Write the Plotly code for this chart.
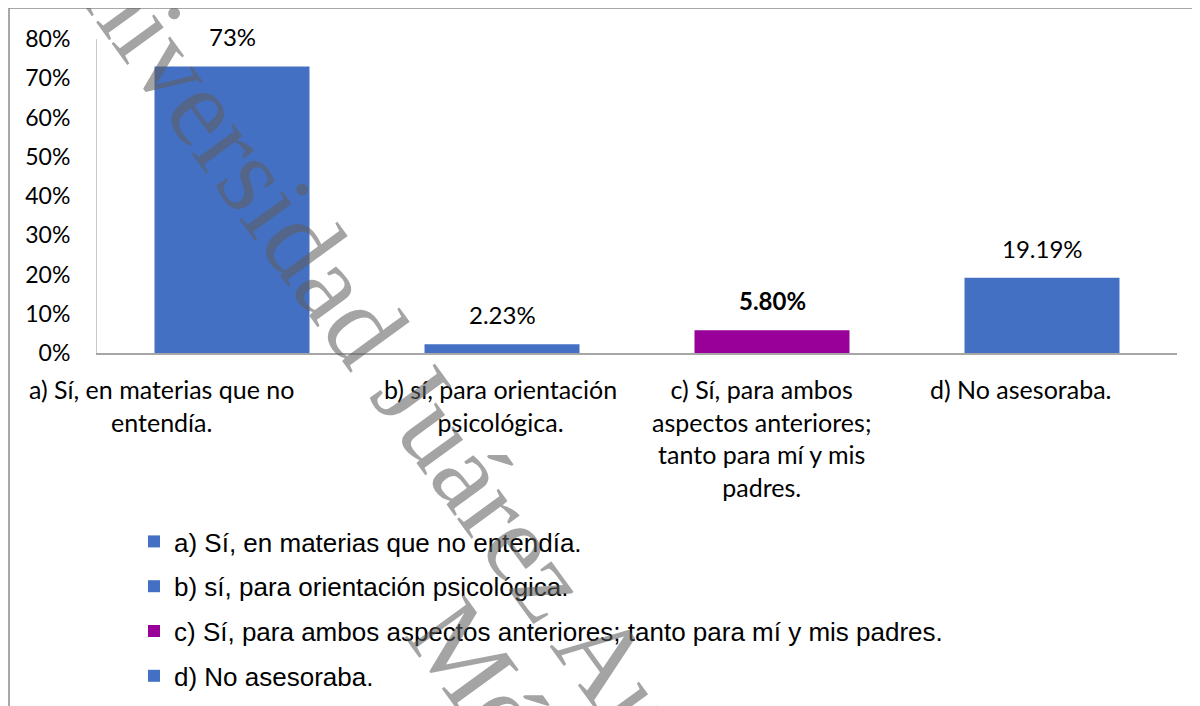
import plotly.graph_objects as go

# datos
categorias = [
    "a) Sí, en materias que no entendía.",
    "b) sí, para orientación psicológica.",
    "c) Sí, para ambos aspectos anteriores; tanto para mí y mis padres.",
    "d) No asesoraba.",
]
etiquetas_eje = [
    "a) Sí, en materias que no<br>entendía.",
    "b) sí, para orientación<br>psicológica.",
    "c) Sí, para ambos<br>aspectos anteriores;<br>tanto para mí y mis<br>padres.",
    "d) No asesoraba.",
]
valores = [0.73, 0.0223, 0.058, 0.1919]
textos = ["73%", "2.23%", "5.80%", "19.19%"]
colores = ["#4470c4", "#4470c4", "#990099", "#4470c4"]

# desplazamiento horizontal de las etiquetas de categoría (como en el original)
desplaz_etiquetas = [-71, -2, -11, -22]

# la página html deja un margen de 8 px alrededor de la figura
OFF = 8
W, H = 1200 - OFF, 706 - OFF
L, T = 97 - OFF, 39 - OFF
R = W - (1177 - OFF)
B = H - (353 - OFF)
pw, ph = W - L - R, H - T - B


def px_x(v):
    # píxel de pantalla -> coordenada paper
    return (v - OFF - L) / pw


def px_y(v):
    return (H - B - (v - OFF)) / ph


fig = go.Figure()

for i in range(len(categorias)):
    fig.add_trace(go.Bar(
        x=[categorias[i]],
        y=[valores[i]],
        name=categorias[i],
        legendgroup=f"g{i}",
        marker=dict(color=colores[i], line=dict(width=0)),
        hoverinfo="y",
    ))
    # etiqueta de datos
    fig.add_annotation(
        x=categorias[i], y=valores[i],
        text=f"<b>{textos[i]}</b>" if i == 2 else textos[i],
        showarrow=False, yanchor="bottom", yshift=13,
        font=dict(family="Lato", size=24, color="#000000"),
    )
    # etiqueta de categoría
    fig.add_annotation(
        x=categorias[i], y=0, yref="y", text=etiquetas_eje[i],
        showarrow=False, yanchor="top", yshift=-19, xshift=desplaz_etiquetas[i],
        align="center", font=dict(family="Lato", size=25, color="#000000"),
    )

# marca de agua
marca = dict(family="Liberation Serif", size=112, color="rgba(95,95,95,0.57)")
fig.add_annotation(
    x=px_x(459), y=px_y(457), xref="paper", yref="paper",
    text="Universidad Juárez Autónoma",
    showarrow=False, textangle=54, xanchor="center", yanchor="middle", font=marca,
)
fig.add_annotation(
    x=px_x(534), y=px_y(751), xref="paper", yref="paper", text="México",
    showarrow=False, textangle=54, xanchor="center", yanchor="middle", font=marca,
)

fig.update_layout(
    width=W, height=H,
    margin=dict(l=L, r=R, t=T, b=B, autoexpand=False),
    paper_bgcolor="white", plot_bgcolor="white",
    barmode="overlay", bargap=0.426,
    font=dict(family="Lato", size=20, color="#000000"),
    showlegend=True,
    legend=dict(
        x=px_x(134), y=px_y(518), xanchor="left", yanchor="top",
        font=dict(family="Liberation Sans", size=26, color="#000000"),
        tracegroupgap=8, itemwidth=30, bgcolor="rgba(0,0,0,0)",
    ),
    xaxis=dict(
        type="category", range=[-0.5, len(categorias) - 0.5], autorange=False,
        showgrid=False, showline=True, linecolor="#a6a6a6", linewidth=2,
        ticks="", showticklabels=False,
    ),
    yaxis=dict(
        range=[0, 0.8], autorange=False, dtick=0.1, tickformat=".0%",
        showgrid=False, showline=True, linecolor="#c8c8c8", linewidth=1,
        zeroline=False, ticks="", ticklabelstandoff=21,
        tickfont=dict(family="Lato", size=23),
    ),
    shapes=[dict(
        type="rect", xref="paper", yref="paper",
        x0=px_x(9), x1=px_x(1220), y0=px_y(8), y1=px_y(730),
        line=dict(color="#8c8c8c", width=1.5), layer="below",
    )],
)

fig.write_html("out.html")
